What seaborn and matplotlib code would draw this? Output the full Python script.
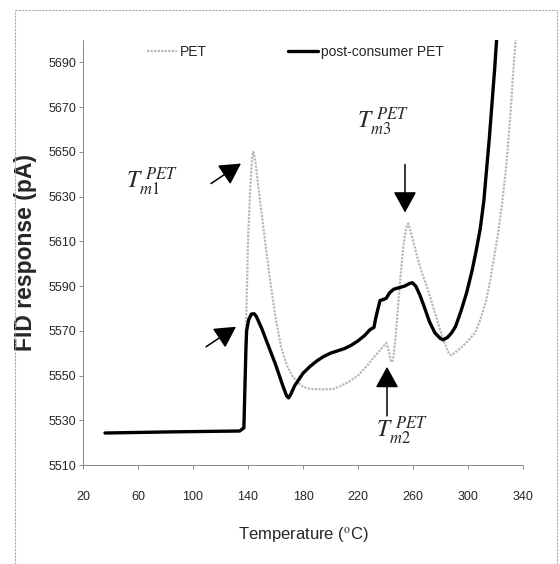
import matplotlib
matplotlib.use("Agg")
import matplotlib.pyplot as plt
from matplotlib.lines import Line2D
import seaborn as sns
import pandas as pd

# ---- data ----
pc_temp = [36, 83, 134, 137, 138.5, 139, 140.5, 142.5, 144.5, 146, 150, 155, 160, 165, 168,
           169.5, 171, 174, 180, 185, 190, 195, 200, 205, 210, 215, 220, 225, 228.7, 231.6,
           233, 236, 238.5, 240.5, 243, 246, 250, 254, 257, 259.5, 262, 265, 268, 272, 276,
           280, 282, 285, 288, 291, 295, 299, 303, 306, 309, 311.5, 313.5, 315.5, 317.5,
           319.5, 321]
pc_resp = [5524.3, 5524.8, 5525.2, 5526.6, 5562, 5570, 5575, 5577.5, 5577.6, 5576.5, 5571,
           5563, 5555, 5546, 5541, 5540, 5541.5, 5545.5, 5551, 5554, 5556.5, 5558.5, 5560,
           5561, 5562, 5563.5, 5565.5, 5568, 5570.5, 5571.5, 5576, 5583.5, 5584, 5584.5,
           5587, 5588.6, 5589.3, 5590, 5591, 5591.5, 5590, 5586, 5581, 5574, 5569, 5566.5,
           5566, 5567, 5569, 5572, 5579, 5587, 5597, 5606, 5616, 5628, 5642, 5656, 5672,
           5688, 5702]

pet_temp = [36, 83, 134, 137, 138.5, 140, 141.5, 143, 144, 145.5, 148, 152, 156, 160, 164,
            168, 172, 176, 180, 185, 195, 202, 208, 214, 220, 226, 232, 237, 240.5, 242,
            244, 245.5, 247, 249, 251, 253, 255, 256.5, 258, 261, 264, 267, 270, 274, 278,
            282, 286, 288, 292, 296, 300, 305, 309, 313, 316, 319, 322, 325, 327.5, 329.5,
            331, 332.5, 334, 335]
pet_resp = [5524.3, 5524.8, 5525.2, 5526.6, 5570, 5610, 5632, 5648, 5650, 5645, 5632, 5612,
            5593, 5576, 5563, 5555, 5550, 5547, 5545, 5544, 5543.8, 5544, 5545.5, 5547.5,
            5550, 5554, 5558.5, 5562, 5564.5, 5562, 5556, 5557, 5565, 5580, 5595, 5608,
            5616, 5618, 5615, 5608, 5601, 5595, 5590, 5582, 5574, 5566, 5560, 5559, 5561,
            5563, 5565.5, 5569, 5575, 5583, 5592, 5603, 5614, 5628, 5642, 5656, 5668, 5682,
            5695, 5702]

x_ticks = [20, 60, 100, 140, 180, 220, 260, 300, 340]
y_ticks = [5510, 5530, 5550, 5570, 5590, 5610, 5630, 5650, 5670, 5690]
series_names = ["PET", "post-consumer PET"]

sns.set_style("white")
plt.rcParams["font.family"] = ["Liberation Sans", "DejaVu Sans"]
plt.rcParams["mathtext.fontset"] = "stix"

fig = plt.figure(figsize=(5.6, 5.64), dpi=100)
ax = fig.add_axes([83 / 560, 1 - 465 / 564, 440 / 560, 425 / 564])

df_pet = pd.DataFrame({"Temperature": pet_temp, "FID": pet_resp})
df_pc = pd.DataFrame({"Temperature": pc_temp, "FID": pc_resp})

sns.lineplot(data=df_pet, x="Temperature", y="FID", ax=ax, color="#b8b8b8",
             lw=1.6, linestyle=(0, (1, 0.6)), label=series_names[0], sort=False)
sns.lineplot(data=df_pc, x="Temperature", y="FID", ax=ax, color="black",
             lw=2.4, label=series_names[1], sort=False)

ax.set_xlim(20, 340)
ax.set_ylim(5510, 5700)
ax.set_xticks(x_ticks)
ax.set_yticks(y_ticks)
ax.set_xticklabels([str(v) for v in x_ticks])
ax.set_yticklabels([str(v) for v in y_ticks])
ax.tick_params(axis="both", labelsize=9, length=3, width=0.6, color="#777777",
               direction="out", left=True, bottom=True)
ax.tick_params(axis="x", pad=16)
ax.tick_params(axis="y", pad=2)

for s in ["top", "right"]:
    ax.spines[s].set_visible(False)
for s in ["left", "bottom"]:
    ax.spines[s].set_color("#888888")
    ax.spines[s].set_linewidth(0.7)
    ax.spines[s].set_linestyle((0, (2, 1)))

ax.set_xlabel("Temperature ($^{\\rm o}$C)", fontsize=12, labelpad=16)
ax.set_ylabel("FID response (pA)", fontsize=16.5, fontweight="bold", labelpad=8)

leg = ax.legend(loc="center left", bbox_to_anchor=(0.145, 0.972), frameon=False,
                ncol=2, fontsize=10, handlelength=2.2, handletextpad=0.2,
                columnspacing=5.8, borderpad=0, borderaxespad=0)

# ---- annotations ----
def px2data(px, py):
    return 20 + (px - 83) / 1.375, 5510 + (465 - py) / 2.2333

arrow_kw = dict(arrowstyle="-|>,head_length=1.0,head_width=0.55", color="black",
                lw=1.1, mutation_scale=13, shrinkA=0, shrinkB=0)

ax.annotate("", xy=px2data(241, 164), xytext=px2data(211, 184), arrowprops=arrow_kw)
ax.annotate("", xy=px2data(236, 327), xytext=px2data(206, 347), arrowprops=arrow_kw)
ax.annotate("", xy=px2data(405, 213), xytext=px2data(405, 165), arrowprops=arrow_kw)
ax.annotate("", xy=px2data(387, 367), xytext=px2data(387, 416), arrowprops=arrow_kw)

tx, ty = px2data(126, 182)
ax.text(tx, ty, r"$T_{m1}^{\ PET}$", fontsize=17, va="center", ha="left")
tx, ty = px2data(357, 122)
ax.text(tx, ty, r"$T_{m3}^{\ PET}$", fontsize=17, va="center", ha="left")
tx, ty = px2data(376, 431)
ax.text(tx, ty, r"$T_{m2}^{\ PET}$", fontsize=17, va="center", ha="left")

# outer dotted frame
frame_kw = dict(color="#aaaaaa", lw=0.8, linestyle=(0, (2, 1)), transform=fig.transFigure)
fig.add_artist(Line2D([15 / 560, 15 / 560], [0, 1 - 10 / 564], **frame_kw))
fig.add_artist(Line2D([15 / 560, 557 / 560], [1 - 10 / 564, 1 - 10 / 564], **frame_kw))
fig.add_artist(Line2D([557 / 560, 557 / 560], [0, 1 - 10 / 564], **frame_kw))

fig.savefig("out.png", dpi=100)
